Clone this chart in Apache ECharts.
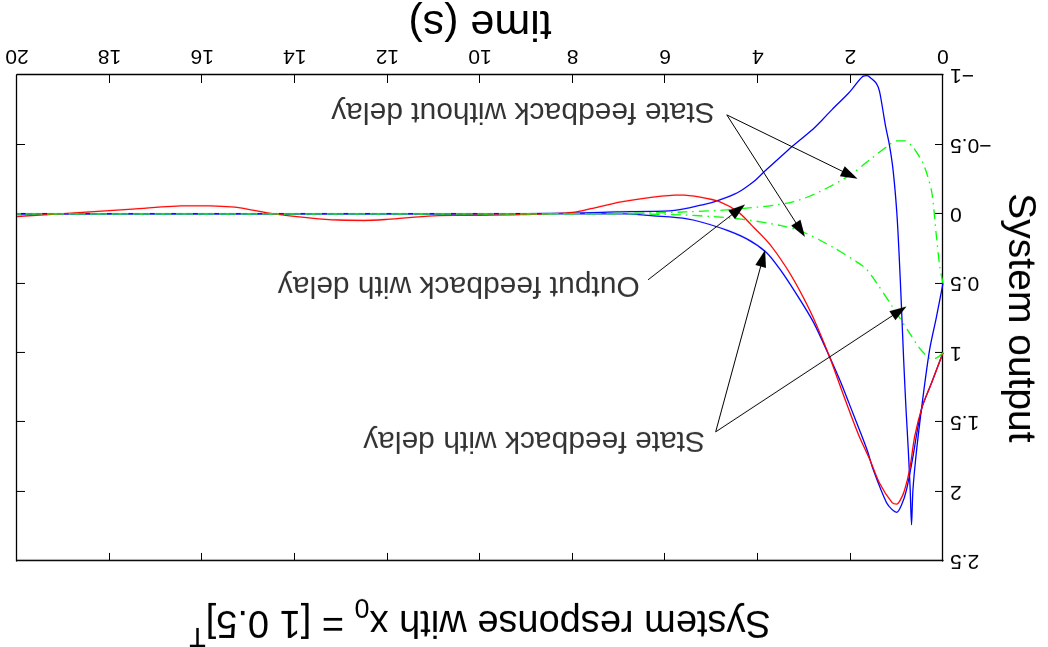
<!DOCTYPE html>
<html>
<head>
<meta charset="utf-8">
<script src="https://cdn.jsdelivr.net/npm/echarts@6/dist/echarts.min.js"></script>
<style>
html,body{margin:0;padding:0;background:#fff;overflow:hidden;}
#chart{width:1048px;height:647px;transform:rotate(180deg);}
</style>
</head>
<body>
<div id="chart"></div>
<script>
// ---- data (time in s, output values) ----
const xTicks = [0, 2, 4, 6, 8, 10, 12, 14, 16, 18, 20];
const yTicks = [-1, -0.5, 0, 0.5, 1, 1.5, 2, 2.5];

// State feedback with delay, state 2 (sharp spike)
const tBlueA = [0, 0.14, 0.29, 0.44, 0.57, 0.65, 0.68, 0.71, 0.75, 0.80, 0.85, 0.90, 0.95, 1.0, 1.08, 1.16, 1.24, 1.37, 1.44, 1.55, 1.64, 1.73, 2.01, 2.37, 2.81, 3.31, 3.81, 4.1, 4.45, 4.82, 5.19, 5.9, 6.98, 8, 10, 20];
const yBlueA = [0.5, 0.74, 0.98, 1.34, 1.70, 1.99, 2.24, 1.98, 1.70, 1.40, 1.05, 0.65, 0.28, -0.02, -0.32, -0.50, -0.63, -0.88, -0.94, -0.975, -0.995, -0.99, -0.88, -0.76, -0.61, -0.47, -0.32, -0.23, -0.15, -0.10, -0.065, -0.022, -0.014, -0.005, 0, 0];

// State feedback with delay, state 1 (smooth bowl)
const tBlueB = [0, 0.25, 0.45, 0.55, 0.65, 0.79, 0.9, 1.0, 1.1, 1.22, 1.51, 1.64, 1.8, 2.0, 2.2, 2.45, 2.8, 3.2, 3.52, 3.81, 4.24, 4.82, 5.53, 6.26, 6.98, 10, 20];
const yBlueB = [1.0, 1.22, 1.39, 1.55, 1.75, 1.99, 2.10, 2.15, 2.13, 2.08, 1.84, 1.70, 1.56, 1.39, 1.22, 1.03, 0.78, 0.56, 0.40, 0.28, 0.18, 0.10, 0.036, 0.014, 0.0, 0, 0];

// Output feedback with delay
const tRed = [0, 0.25, 0.45, 0.61, 0.72, 0.83, 0.92, 1.0, 1.1, 1.37, 1.58, 1.8, 2.0, 2.2, 2.45, 2.8, 3.1, 3.38, 3.74, 4.11, 4.43, 4.82, 5.25, 5.68, 6.26, 6.98, 7.56, 8.0, 9, 10, 11, 12, 12.5, 13.2, 14.45, 15.3, 16.3, 17.5, 18.5, 20];
const yRed = [1.0, 1.22, 1.39, 1.60, 1.84, 1.99, 2.06, 2.09, 2.08, 1.94, 1.77, 1.61, 1.44, 1.26, 1.03, 0.75, 0.55, 0.39, 0.22, 0.09, -0.015, -0.086, -0.12, -0.135, -0.12, -0.085, -0.04, -0.01, 0.005, 0.01, 0.015, 0.04, 0.048, 0.043, 0, -0.048, -0.058, -0.034, -0.012, 0.019];

// State feedback without delay, state 2
const tGreenA = [0, 0.07, 0.14, 0.24, 0.34, 0.44, 0.65, 0.83, 1.0, 1.15, 1.58, 2.01, 2.6, 3.24, 4.39, 5.53, 7, 10, 20];
const yGreenA = [0.5, 0.38, 0.17, -0.15, -0.28, -0.37, -0.48, -0.525, -0.525, -0.50, -0.39, -0.28, -0.17, -0.086, -0.036, -0.014, -0.003, 0, 0];

// State feedback without delay, state 1
const tGreenB = [0, 0.1, 0.2, 0.29, 0.5, 0.72, 1.09, 1.43, 1.65, 1.8, 2.38, 3.03, 3.5, 4.24, 4.97, 5.9, 7, 20];
const yGreenB = [1.0, 1.03, 1.045, 1.04, 0.97, 0.86, 0.67, 0.50, 0.40, 0.36, 0.24, 0.13, 0.085, 0.043, 0.02, 0.005, 0, 0];

// annotations: label text, label anchor [t, y], arrow start [t, y], arrow tips [[t, y], ...]
const annText = ['State feedback without delay', 'State feedback with delay', 'Output feedback with delay'];
const annLabelPos = [[4.93, -0.74], [5.14, 1.63], [6.55, 0.515]];
const annStart = [[4.67, -0.713], [4.91, 1.57], [6.37, 0.475]];
const annTips = [[[2.01, -0.28], [3.08, 0.115]], [[3.89, 0.32], [0.94, 0.70]], [[4.42, -0.03]]];

const zip = (t, y) => t.map((v, i) => [v, y[i]]);

const chart = echarts.init(document.getElementById('chart'), null, {renderer: 'canvas'});

const FONT = 'Liberation Sans, Arial, sans-serif';
const minus = v => String(v).replace('-', '\u2212');
const axisCommon = {
  type: 'value', min: 0, max: 20, interval: 2,
  axisLine: {show: true, onZero: false, lineStyle: {color: '#000', width: 1.3}},
  axisTick: {show: true, inside: true, length: 8, lineStyle: {color: '#000', width: 1}},
  splitLine: {show: false}
};
const yCommon = {
  type: 'value', min: -1, max: 2.5, interval: 0.5,
  axisLine: {show: true, onZero: false, lineStyle: {color: '#000', width: 1.3}},
  axisTick: {show: true, inside: true, length: 8, lineStyle: {color: '#000', width: 1}},
  splitLine: {show: false}
};

const markLines = [];
annStart.forEach((s, i) => {
  annTips[i].forEach(tip => {
    markLines.push([
      {coord: s, symbol: 'none'},
      {coord: tip, symbol: 'triangle', symbolSize: [11, 17]}
    ]);
  });
});

const lineSeries = (name, data, color, dashed) => ({
  name, type: 'line', data, showSymbol: false, symbol: 'none',
  smooth: 0.3, animation: false,
  lineStyle: {color, width: 1.3, type: dashed ? [10, 5, 1.5, 5] : 'solid'},
  z: 3
});

chart.setOption({
  animation: false,
  backgroundColor: '#fff',
  title: {
    text: '{a|System response with x}{s|0}{a| = [1 0.5]}{p|T}',
    left: 568, top: -2, textAlign: 'center', padding: 0,
    textStyle: {
      rich: {
        a: {fontFamily: FONT, fontSize: 38, fontWeight: 'normal', color: '#000', lineHeight: 56, verticalAlign: 'middle'},
        s: {fontFamily: FONT, fontSize: 27, fontWeight: 'normal', color: '#000', lineHeight: 9, verticalAlign: 'bottom'},
        p: {fontFamily: FONT, fontSize: 27, fontWeight: 'normal', color: '#000', lineHeight: 28, verticalAlign: 'top'}
      }
    }
  },
  grid: {left: 105, right: 17, top: 86, bottom: 75, containLabel: false, outerBoundsMode: 'none'},
  xAxis: [
    Object.assign({}, axisCommon, {
      position: 'bottom',
      axisLabel: {color: '#000', fontSize: 21, fontFamily: FONT, margin: 9},
      name: 'time (s)', nameLocation: 'middle', nameGap: 31, nameMoveOverlap: false,
      nameTextStyle: {color: '#000', fontSize: 43, fontFamily: FONT}
    }),
    Object.assign({}, axisCommon, {position: 'top', axisLabel: {show: false}})
  ],
  yAxis: [
    Object.assign({}, yCommon, {
      position: 'left',
      axisLabel: {color: '#000', fontSize: 21, fontFamily: FONT, margin: 7, formatter: minus},
      name: 'System output', nameLocation: 'middle', nameGap: 57, nameRotate: 90, nameMoveOverlap: false,
      nameTextStyle: {color: '#000', fontSize: 39, fontFamily: FONT}
    }),
    Object.assign({}, yCommon, {position: 'right', axisLabel: {show: false}})
  ],
  series: [
    lineSeries('State feedback with delay (x2)', zip(tBlueA, yBlueA), '#0000ff', false),
    lineSeries('State feedback with delay (x1)', zip(tBlueB, yBlueB), '#0000ff', false),
    lineSeries('Output feedback with delay', zip(tRed, yRed), '#ff0000', false),
    lineSeries('State feedback without delay (x2)', zip(tGreenA, yGreenA), '#00ff00', true),
    lineSeries('State feedback without delay (x1)', zip(tGreenB, yGreenB), '#00ff00', true),
    {
      name: 'annotations', type: 'scatter', symbolSize: 0, z: 5,
      data: annLabelPos.map((p, i) => [p[0], p[1], annText[i]]),
      label: {
        show: true, position: 'inside', align: 'left', verticalAlign: 'middle',
        formatter: p => p.value[2], color: '#000', fontSize: 30, fontFamily: FONT
      },
      markLine: {
        silent: true, animation: false,
        label: {show: false},
        lineStyle: {color: '#000', width: 1, type: 'solid'},
        data: markLines
      }
    }
  ]
});
</script>
</body>
</html>
